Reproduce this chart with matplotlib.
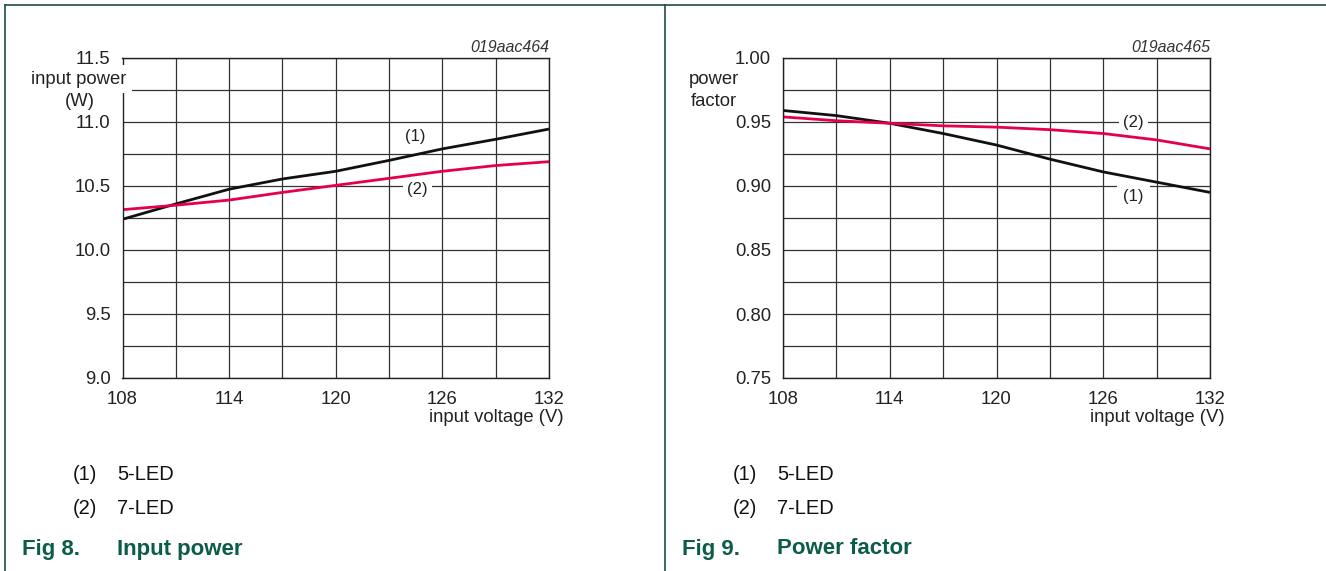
import matplotlib
matplotlib.use('Agg')
import matplotlib.pyplot as plt
import numpy as np
from matplotlib.lines import Line2D
from matplotlib.ticker import MultipleLocator

plt.rcParams['font.family'] = ['Liberation Sans', 'DejaVu Sans']

# values
voltage = [108, 111, 114, 117, 120, 123, 126, 129, 132]
power_5led = [10.24, 10.36, 10.475, 10.555, 10.615, 10.70, 10.79, 10.865, 10.945]
power_7led = [10.315, 10.35, 10.39, 10.45, 10.505, 10.56, 10.615, 10.66, 10.69]
pf_5led = [0.959, 0.955, 0.949, 0.941, 0.932, 0.921, 0.911, 0.903, 0.895]
pf_7led = [0.954, 0.951, 0.949, 0.947, 0.946, 0.944, 0.941, 0.936, 0.929]

xticks = [108, 114, 120, 126, 132]
legend_items = [('(1)', '5-LED'), ('(2)', '7-LED')]

W, H = 1326, 571
RED = '#e5004c'
GREEN = '#0b5c48'
GRID = '#333333'
TXT = '#222222'
FS = 13.3

fig = plt.figure(figsize=(W / 100, H / 100), dpi=100)


def fx(px):
    return px / W


def fy(py):
    return 1 - py / H


def make_ax(x0, x1, y0, y1, ylim, ymajor, yminor, fmt):
    ax = fig.add_axes([fx(x0), fy(y1), (x1 - x0) / W, (y1 - y0) / H])
    ax.set_xlim(108, 132)
    ax.set_ylim(*ylim)
    ax.set_xticks(xticks)
    ax.xaxis.set_minor_locator(MultipleLocator(3))
    ax.yaxis.set_major_locator(MultipleLocator(ymajor))
    ax.yaxis.set_minor_locator(MultipleLocator(yminor))
    ax.yaxis.set_major_formatter(fmt)
    ax.grid(True, which='both', color=GRID, lw=0.9)
    ax.set_axisbelow(True)
    ax.tick_params(which='both', length=0, labelsize=FS, colors=TXT)
    ax.tick_params(axis='y', pad=8.5)
    ax.tick_params(axis='x', pad=9.5)
    for s in ax.spines.values():
        s.set_color(TXT)
        s.set_linewidth(1.0)
    return ax


# Fig 8 - input power
ax1 = make_ax(122.5, 549, 58, 378, (9.0, 11.5), 0.5, 0.25, '{x:.1f}')
ax1.plot(voltage, power_5led, color='#111111', lw=2.0, solid_capstyle='butt')
ax1.plot(voltage, power_7led, color=RED, lw=2.0, solid_capstyle='butt')
ax1.text(124.5, 10.885, '(1)', ha='center', va='center', fontsize=12, color=TXT)
ax1.text(124.6, 10.47, '(2)', ha='center', va='center', fontsize=12, color=TXT,
         bbox=dict(facecolor='white', edgecolor='none', pad=3.2))

# Fig 9 - power factor
ax2 = make_ax(783, 1210, 58, 378, (0.75, 1.0), 0.05, 0.025, '{x:.2f}')
ax2.plot(voltage, pf_5led, color='#111111', lw=2.0, solid_capstyle='butt')
ax2.plot(voltage, pf_7led, color=RED, lw=2.0, solid_capstyle='butt')
ax2.text(127.7, 0.95, '(2)', ha='center', va='center', fontsize=12, color=TXT,
         bbox=dict(facecolor='white', edgecolor='none', pad=3.2))
ax2.text(127.7, 0.8916, '(1)', ha='center', va='center', fontsize=12, color=TXT,
         bbox=dict(facecolor='white', edgecolor='none', pad=4.2))

# axis titles and ids
fig.text(fx(79), fy(79), 'input power', ha='center', va='center', fontsize=FS,
         color=TXT, bbox=dict(facecolor='white', edgecolor='none', pad=4.0))
fig.text(fx(80), fy(102), '(W)', ha='center', va='center', fontsize=FS, color=TXT)
fig.text(fx(714), fy(79), 'power', ha='center', va='center', fontsize=FS, color=TXT)
fig.text(fx(714), fy(102), 'factor', ha='center', va='center', fontsize=FS, color=TXT)
for xr, code in [(549, '019aac464'), (1210, '019aac465')]:
    fig.text(fx(xr), fy(47), code, ha='right', va='center', fontsize=11.5,
             style='italic', color='#333333')
for xr in (564, 1225):
    fig.text(fx(xr), fy(417), 'input voltage (V)', ha='right', va='center',
             fontsize=FS, color=TXT)

# notes and captions
for x0, fig_no, caption in [(22, 'Fig 8.', 'Input power'), (682, 'Fig 9.', 'Power factor')]:
    for (num, name), yy in zip(legend_items, (474, 508)):
        fig.text(fx(x0 + 51), fy(yy), num, ha='left', va='center', fontsize=14.5, color='#111111')
        fig.text(fx(x0 + 95), fy(yy), name, ha='left', va='center', fontsize=14.5, color='#111111')
    fig.text(fx(x0), fy(549), fig_no, ha='left', va='center', fontsize=16,
             fontweight='bold', color=GREEN)
    fig.text(fx(x0 + 95), fy(549), caption, ha='left', va='center', fontsize=16,
             fontweight='bold', color=GREEN)

# page frame
frame = dict(color='#1f4f45', lw=1.2, transform=fig.transFigure)
fig.add_artist(Line2D([fx(5), 1], [fy(5), fy(5)], **frame))
fig.add_artist(Line2D([fx(5), fx(5)], [fy(5), 0], **frame))
fig.add_artist(Line2D([fx(665), fx(665)], [fy(5), 0], **frame))

fig.savefig('out.png', dpi=100)
